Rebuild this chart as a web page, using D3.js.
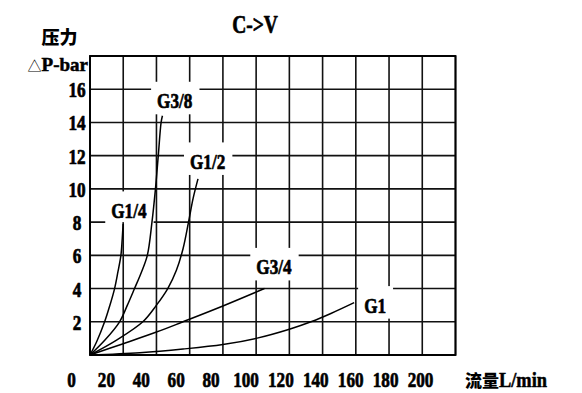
<!DOCTYPE html>
<html><head><meta charset="utf-8">
<script src="https://cdn.jsdelivr.net/npm/d3@7"></script>
<style>body{margin:0;background:#fff}svg{display:block}</style>
</head><body><svg id="c" width="582" height="393"></svg>
<script>
// ---- data ----
const flowTicks = [0,20,40,60,80,100,120,140,160,180,200];
const pressureTicks = [2,4,6,8,10,12,14,16];
const seriesNames = ["G1/4","G3/8","G1/2","G3/4","G1"];
const g14 = [[0,0],[4,0.8],[8.8,2],[12,3],[14.8,4],[16.8,5],[18.6,6],[19.4,7],[20,8]];
const g38 = [[0,0],[9,0.9],[17.8,2],[22.5,3],[26.8,4],[31,5],[34.5,6],[37.3,8],[39.4,10],[41.1,12],[42.8,14],[43.6,14.4]];
const g12 = [[0,0],[16,0.9],[31.8,2],[40,3],[46.8,4],[52,5.1],[56,6.4],[59.3,8],[62,9.4],[65,10.6]];
const g34 = [[0,0],[20,0.68],[40,1.38],[56,2],[80,2.95],[105,4]];
const g1  = [[0,0],[30,0.14],[56,0.36],[80,0.63],[100,1.0],[120,1.55],[133,2.0],[145,2.5],[159,3.15]];
const seriesValues = [g14,g38,g12,g34,g1];
const labelAnchors = [[23.4,8.7],[51,15.3],[70.8,11.65],[110.7,5.3],[171.6,3.0]];
const title = "C->V";
const yTitleCN = "压力";
const yTitleEN = "P-bar";
const xTitleCN = "流量";
const xTitleEN = "L/min";

// ---- drawing ----
const svg = d3.select("#c");
const latin = "'Liberation Serif','Times New Roman',serif";
const cjk = "'Noto Sans CJK SC','Noto Sans CJK JP',sans-serif";
const SX = 0.78;
const heavy = sel => sel.attr("stroke","#000").attr("stroke-width",0.7).attr("stroke-linejoin","round");

const x = d3.scaleLinear().domain([0,220]).range([90,455.5]);
const y = d3.scaleLinear().domain([0,18]).range([355,56]);
const xl = d3.scaleLinear().domain([0,200]).range([71,420]); // tick label row

const grid = svg.append("g").attr("stroke","#111").attr("stroke-width",1.6);
grid.selectAll("line.v").data(d3.range(0,221,20)).join("line")
  .attr("x1",d=>x(d)).attr("x2",d=>x(d)).attr("y1",y(0)).attr("y2",y(18));
grid.selectAll("line.h").data(d3.range(0,19,2)).join("line")
  .attr("y1",d=>y(d)).attr("y2",d=>y(d)).attr("x1",x(0)).attr("x2",x(220));
svg.append("rect").attr("x",x(0)).attr("y",y(18)).attr("width",x(220)-x(0)).attr("height",y(0)-y(18))
  .attr("fill","none").attr("stroke","#000").attr("stroke-width",1.9);

// labels on the curves
const lab = svg.append("g");
const labG = lab.selectAll("g").data(seriesNames).join("g")
  .attr("transform",(d,i)=>`translate(${x(labelAnchors[i][0])},${y(labelAnchors[i][1])})`);
labG.append("text").text(d=>d)
  .attr("transform",`scale(${SX},1)`).attr("text-anchor","middle").attr("y",7.5)
  .attr("font-family",latin).attr("font-weight","bold").attr("font-size",22).attr("fill","#000").call(heavy);
labG.each(function(){
  const g = d3.select(this);
  const b = this.getBBox();
  g.insert("rect","text").attr("x",b.x-6).attr("y",b.y-6.5).attr("width",b.width+13).attr("height",b.height+8).attr("fill","#fff");
});

// curves
const line = d3.line().x(d=>x(d[0])).y(d=>y(d[1])).curve(d3.curveCatmullRom.alpha(0.5));
svg.append("g").selectAll("path").data(seriesValues).join("path")
  .attr("d",line).attr("fill","none").attr("stroke","#000").attr("stroke-width",1.5);

// x tick labels
const xa = svg.append("g").attr("transform","translate(0,369)")
  .call(d3.axisBottom(xl).tickValues(flowTicks).tickSize(0).tickFormat(d3.format("d")));
xa.select(".domain").remove();
xa.selectAll("text").attr("y",0).attr("dy","18").attr("transform",`scale(${SX},1)`)
  .attr("font-family",latin).attr("font-weight","bold").attr("font-size",22).attr("fill","#000").call(heavy);

// y tick labels
const ya = svg.append("g").attr("transform","translate(77,0)")
  .call(d3.axisLeft(y).tickValues(pressureTicks).tickSize(0).tickFormat(d3.format("d")));
ya.select(".domain").remove();
ya.selectAll("text").attr("x",0).attr("dy","7.5").attr("text-anchor","middle").attr("transform",`scale(${SX+0.04},1)`)
  .attr("font-family",latin).attr("font-weight","bold").attr("font-size",21).attr("fill","#000").call(heavy);

// titles
svg.append("g").attr("transform","translate(255,33)").append("text").text(title)
  .attr("transform","scale(0.75,1)").attr("text-anchor","middle")
  .attr("font-family",latin).attr("font-weight","bold").attr("font-size",26).call(heavy);
svg.append("text").text(yTitleCN).attr("x",59.5).attr("y",36).attr("dominant-baseline","central")
  .attr("text-anchor","middle").attr("font-family",cjk).attr("font-weight",900).attr("font-size",18);
const yt = svg.append("g").attr("transform","translate(88,71)").append("text").attr("text-anchor","end");
yt.append("tspan").text("△").attr("font-family",cjk).attr("font-size",14).attr("font-weight",400);
yt.append("tspan").text(yTitleEN).attr("font-family",latin).attr("font-weight","bold").attr("font-size",19)
  .attr("stroke","#000").attr("stroke-width",0.5);
const xt = svg.append("text").attr("x",465).attr("y",387);
xt.append("tspan").text(xTitleCN).attr("font-family",cjk).attr("font-weight",900).attr("font-size",17);
xt.append("tspan").text(xTitleEN).attr("font-family",latin).attr("font-weight","bold").attr("font-size",20)
  .attr("textLength",48).attr("lengthAdjust","spacingAndGlyphs").attr("stroke","#000").attr("stroke-width",0.5);
</script></body></html>
